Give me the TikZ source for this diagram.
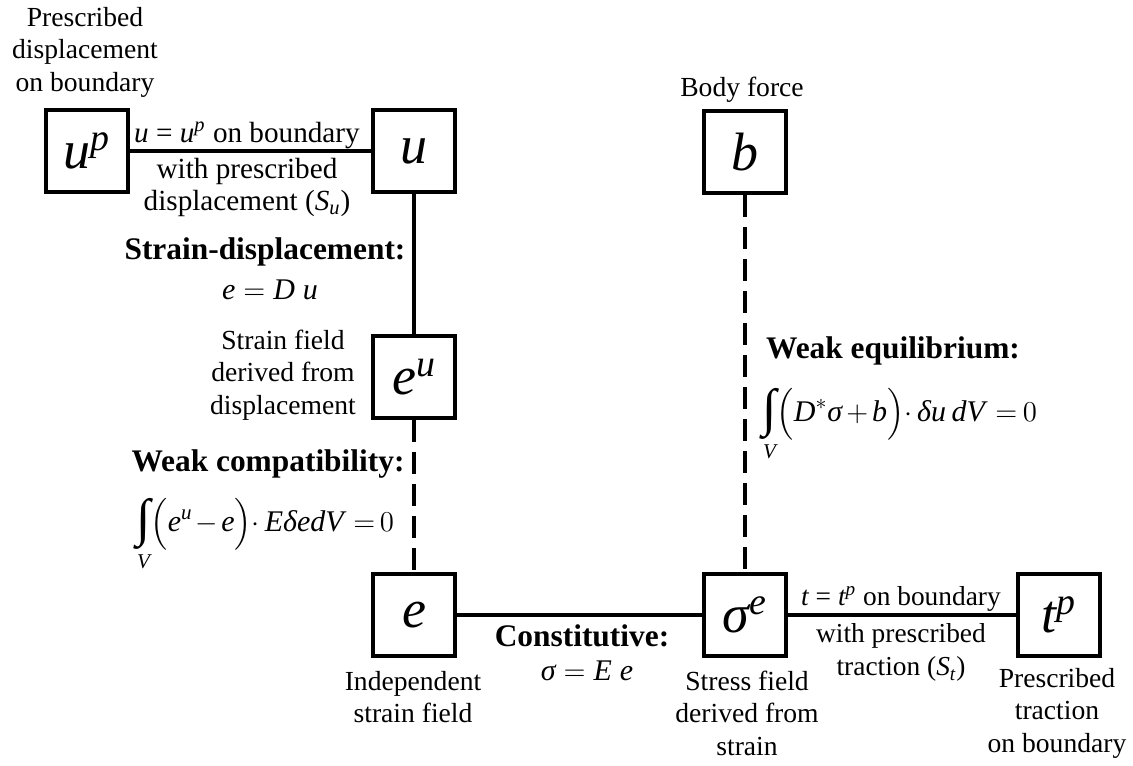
\documentclass[tikz,border=0pt]{standalone}
\usepackage{amsmath}
\usepackage{fontspec}
\setmainfont{Liberation Serif}
\newcommand{\mv}[1]{\textit{#1}}
\newcommand{\bigint}{\mathop{\vcenter{\hbox{\fontsize{26}{26}\selectfont ∫}}}\limits}
\begin{document}
\begin{tikzpicture}[x=0.5pt,y=-0.5pt,
  box/.style={draw,line width=2pt,minimum size=41pt,inner sep=0pt,font=\fontsize{27}{30}\selectfont},
  lbl/.style={align=center,inner sep=0pt,font=\fontsize{13.8}{16.25}\selectfont},
  ulbl/.style={align=center,inner sep=0pt,font=\fontsize{14.6}{16}\selectfont},
  tlbl/.style={align=center,inner sep=0pt,font=\fontsize{13.7}{16.5}\selectfont},
  blbl/.style={align=center,inner sep=0pt,font=\fontsize{15.7}{18}\selectfont\bfseries},
  fml/.style={inner sep=0pt,font=\fontsize{15}{18}\selectfont},
  solidc/.style={line width=2pt},
  dashc/.style={line width=2pt,dash pattern=on 11pt off 5pt}]
\useasboundingbox (0,0) rectangle (1133,765);
% boxes
\node[box] (up) at (87,151) {$\mv{u}^{\mv{p}}$};
\node[box] (u) at (414,151) {$\mv{u}$};
\node[box] (eu) at (414,377) {$\mv{e}^{\mv{u}}$};
\node[box] (e) at (414,615) {$\mv{e}$};
\node[box] (se) at (745,615) {$\mv{σ}^{\mv{e}}$};
\node[box] (tp) at (1059,615) {$\mv{t}^{\mv{p}}$};
\node[box] (b) at (745,152) {$\mv{b}$};
% connectors
\draw[solidc] (up) -- (u);
\draw[solidc] (u) -- (eu);
\draw[dashc] (eu) -- (e);
\draw[solidc] (e) -- (se);
\draw[solidc] (se) -- (tp);
\draw[dashc] (b) -- (se);
% labels
\node[lbl] (l1) at (85,52) {Prescribed\\displacement\\on boundary};
\node[ulbl] (l2) at (247,169) {$\mv{u}$ = $\mv{u}^{\mv{p}}$ on boundary\\[2pt]with prescribed\\displacement ($\mv{S}_{\mv{u}}$)};
\node[blbl] (l3) at (265,252) {Strain-displacement:};
\node[fml] (l4) at (270,290) {$\mv{e}=\mv{D}\;\mv{u}$};
\node[lbl] (l5) at (283,375) {Strain field\\derived from\\displacement};
\node[blbl] (l6) at (268,464) {Weak compatibility:};
\node[fml,anchor=west] (l7) at (136,535) {\medmuskip=2mu\thickmuskip=3mu$\displaystyle\bigint_{\mv{V}}\Bigl(\mv{e}^{\mv{u}}-\mv{e}\Bigr){\cdot}\,\mv{E}\mv{δ}\mv{edV}\,=0$};
\node[lbl] (l8) at (742,90) {Body force};
\node[blbl] (l9) at (893,351) {Weak equilibrium:};
\node[fml,anchor=west] (l10) at (762,425) {\medmuskip=2.5mu\thickmuskip=3.5mu$\displaystyle\bigint_{\mv{V}}\Bigl(\mv{D}^{*}\mv{σ}+\mv{b}\Bigr){\cdot}\,\mv{δu}\;\mv{dV}\,=0$};
\node[blbl] (l11) at (582,636) {Constitutive:};
\node[fml] (l12) at (587,671) {$\mv{σ}=\mv{E}\;\mv{e}$};
\node[lbl] (l13) at (413,697) {Independent\\strain field};
\node[tlbl] (l14) at (901,634) {$\mv{t}$ = $\mv{t}^{\mv{p}}$ on boundary\\[2pt]with prescribed\\traction ($\mv{S}_{\mv{t}}$)};
\node[lbl] (l15) at (747,713) {Stress field\\derived from\\strain};
\node[lbl] (l16) at (1057,713) {Prescribed\\traction\\on boundary};
\end{tikzpicture}
\end{document}
